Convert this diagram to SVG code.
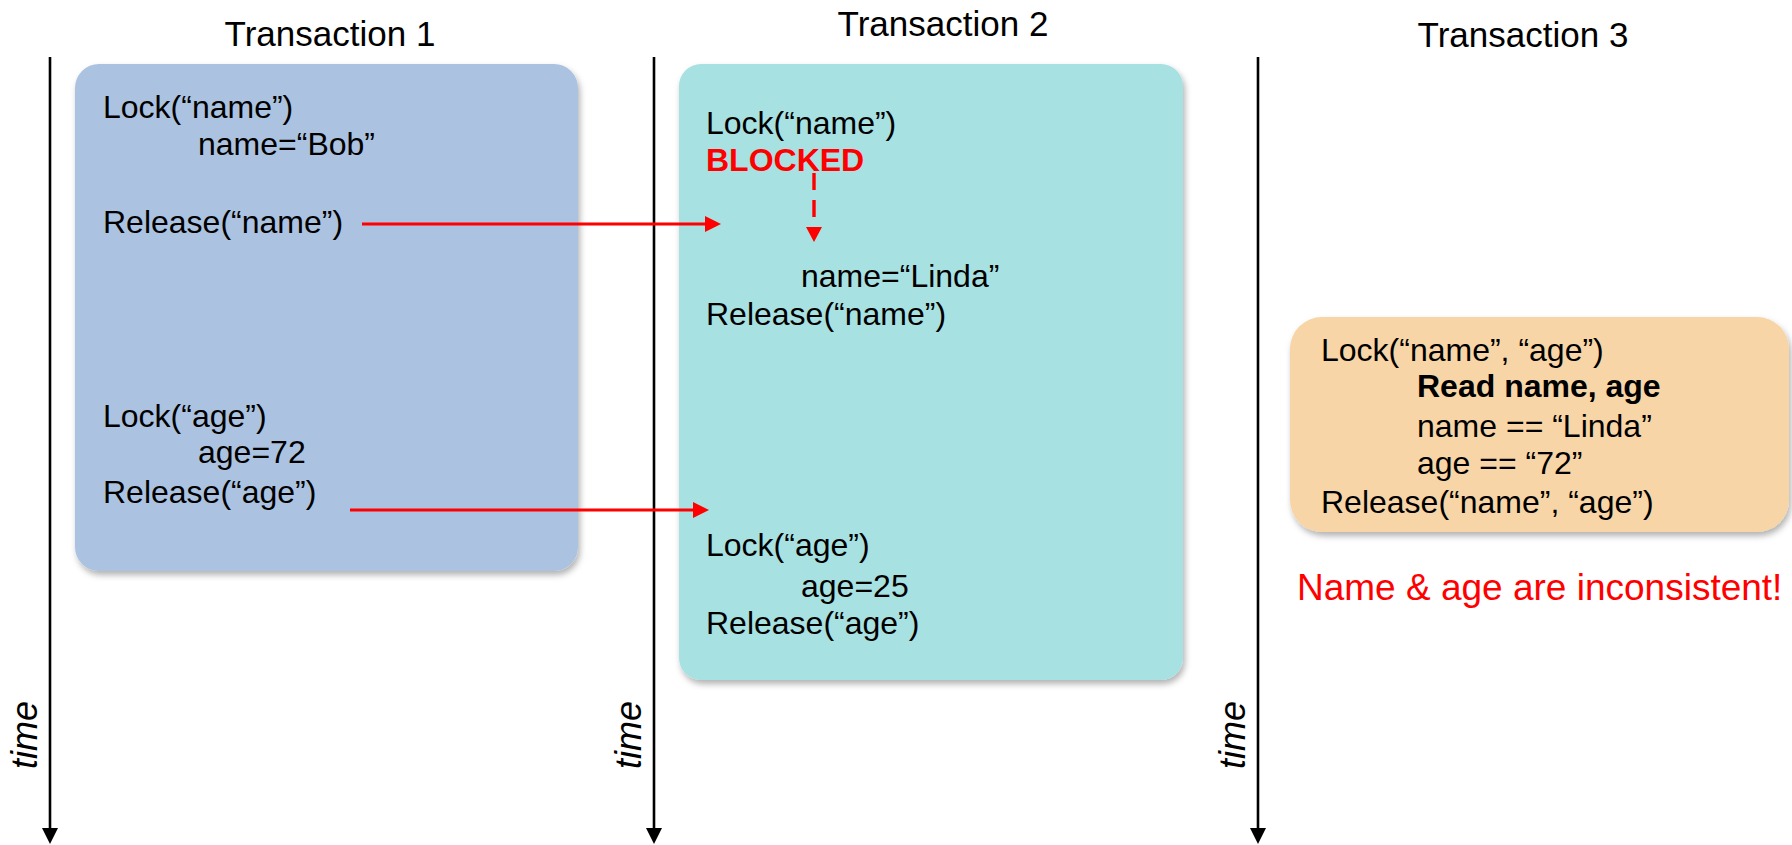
<svg xmlns="http://www.w3.org/2000/svg" width="1792" height="845" viewBox="0 0 1792 845">
  <style>
    text { font-family: "Liberation Sans", Arial, Helvetica, sans-serif; fill: #000; }
    .title { font-size: 35px; text-anchor: middle; }
    .body { font-size: 32px; }
    .bold { font-weight: bold; }
    .red { fill: #ff0000; }
    .time { font-size: 36px; font-style: italic; text-anchor: middle; }
    .axis { stroke: #000; stroke-width: 2.6; fill: none; }
    .flow { stroke: #ff0000; stroke-width: 2.8; fill: none; }
    .dashed { stroke-width: 3.4; stroke-dasharray: 17 10; }
    .box { filter: url(#shadow); }
  </style>
  <defs>
    <filter id="shadow" x="-10%" y="-10%" width="120%" height="120%">
      <feDropShadow dx="2" dy="4" stdDeviation="3" flood-color="#000" flood-opacity="0.3"/>
    </filter>
    <marker id="axisHead" markerUnits="userSpaceOnUse" markerWidth="16" markerHeight="16" viewBox="0 0 16 16" refX="8" refY="8" orient="auto" overflow="visible">
      <path d="M0,0 L16,8 L0,16 Z" fill="#000"/>
    </marker>
    <marker id="redHead" markerUnits="userSpaceOnUse" markerWidth="16" markerHeight="16" viewBox="0 0 16 16" refX="8" refY="8" orient="auto" overflow="visible">
      <path d="M0,0 L16,8 L0,16 Z" fill="#ff0000"/>
    </marker>
    <marker id="redHeadGap" markerUnits="userSpaceOnUse" markerWidth="16" markerHeight="16" viewBox="0 0 16 16" refX="-10" refY="8" orient="auto" overflow="visible">
      <path d="M0,0 L15,8 L0,16 Z" fill="#ff0000"/>
    </marker>
  </defs>

  <!-- Column titles -->
  <text class="title" x="330" y="46">Transaction 1</text>
  <text class="title" x="943" y="36">Transaction 2</text>
  <text class="title" x="1523" y="47">Transaction 3</text>

  <!-- Time axes -->
  <g id="timelines">
    <line class="axis" x1="50" y1="57" x2="50" y2="836" marker-end="url(#axisHead)"/>
    <line class="axis" x1="654" y1="57" x2="654" y2="836" marker-end="url(#axisHead)"/>
    <line class="axis" x1="1258" y1="57" x2="1258" y2="836" marker-end="url(#axisHead)"/>
    <text class="time" transform="translate(37,735) rotate(-90)">time</text>
    <text class="time" transform="translate(641,735) rotate(-90)">time</text>
    <text class="time" transform="translate(1245,735) rotate(-90)">time</text>
  </g>

  <!-- Transaction 1 -->
  <g id="tx1">
    <rect class="box" x="75" y="64" width="503" height="507" rx="24" ry="24" fill="#abc3e1"/>
    <text class="body" x="103" y="118">Lock(“name”)</text>
    <text class="body" x="198" y="155">name=“Bob”</text>
    <text class="body" x="103" y="233">Release(“name”)</text>
    <text class="body" x="103" y="427">Lock(“age”)</text>
    <text class="body" x="198" y="463">age=72</text>
    <text class="body" x="103" y="503">Release(“age”)</text>
  </g>

  <!-- Transaction 2 -->
  <g id="tx2">
    <rect class="box" x="679" y="64" width="504" height="616" rx="22" ry="22" fill="#a8e1e2"/>
    <text class="body" x="706" y="134">Lock(“name”)</text>
    <text class="body bold red" x="706" y="171">BLOCKED</text>
    <text class="body" x="801" y="287">name=“Linda”</text>
    <text class="body" x="706" y="325">Release(“name”)</text>
    <text class="body" x="706" y="556">Lock(“age”)</text>
    <text class="body" x="801" y="597">age=25</text>
    <text class="body" x="706" y="634">Release(“age”)</text>
  </g>

  <!-- Transaction 3 -->
  <g id="tx3">
    <rect class="box" x="1290" y="317" width="499" height="215" rx="32" ry="32" fill="#f7d5a6"/>
    <text class="body" x="1321" y="361">Lock(“name”, “age”)</text>
    <text class="body bold" x="1417" y="397">Read name, age</text>
    <text class="body" x="1417" y="437">name == “Linda”</text>
    <text class="body" x="1417" y="474">age == “72”</text>
    <text class="body" x="1321" y="513">Release(“name”, “age”)</text>
  </g>

  <!-- Outcome note -->
  <g id="note">
    <text class="red" x="1297" y="600" style="font-size:37px">Name &amp; age are inconsistent!</text>
  </g>

  <!-- Lock hand-over connectors -->
  <g id="connectors">
    <line class="flow" x1="362" y1="224" x2="713" y2="224" marker-end="url(#redHead)"/>
    <line class="flow" x1="350" y1="510" x2="701" y2="510" marker-end="url(#redHead)"/>
    <line class="flow dashed" x1="814" y1="173" x2="814" y2="217" marker-end="url(#redHeadGap)"/>
  </g>
</svg>
